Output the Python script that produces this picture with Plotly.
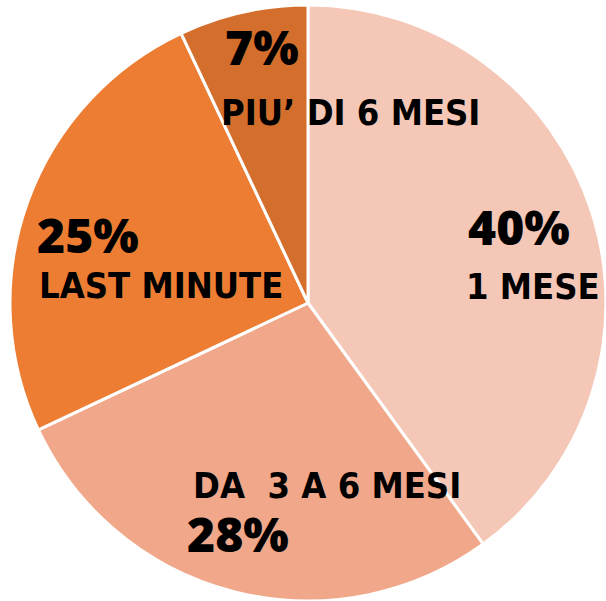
import plotly.graph_objects as go

categories = ["1 MESE", "DA  3 A 6 MESI", "LAST MINUTE", "PIU’ DI 6 MESI"]
values = [40, 28, 25, 7]
pct_labels = ["40%", "28%", "25%", "7%"]
colors = ["#F4C7B7", "#F1A88A", "#ED7D32", "#D46E2C"]

W, H = 606, 601

fig = go.Figure(go.Pie(
    labels=categories,
    values=values,
    sort=False,
    direction="clockwise",
    rotation=0,
    marker=dict(colors=colors, line=dict(color="white", width=3)),
    textinfo="none",
    hoverinfo="label+percent",
    showlegend=False,
    domain=dict(x=[10 / W, 1.0], y=[0.0, 1 - 5 / H]),
))

# label placement (pixel centres)
pct_pos = [(519, 226), (238, 533), (88, 234), (262, 46)]
cat_pos = [(533, 286), (327, 486), (161, 285), (350, 112)]

for (x, y), t in zip(pct_pos, pct_labels):
    fig.add_annotation(x=x / W, y=1 - y / H, xref="paper", yref="paper",
                       text=t, showarrow=False, xanchor="center", yanchor="middle",
                       font=dict(family="Open Sans", size=48, color="black", weight=800))
for (x, y), t in zip(cat_pos, categories):
    fig.add_annotation(x=x / W, y=1 - y / H, xref="paper", yref="paper",
                       text=t, showarrow=False, xanchor="center", yanchor="middle",
                       font=dict(family="DejaVu Sans Condensed", size=36, color="black", weight="bold"))

fig.update_layout(width=W, height=H, margin=dict(l=0, r=0, t=0, b=0),
                  paper_bgcolor="white", plot_bgcolor="white")
fig.write_html("out.html", config={"displayModeBar": False},
               post_script="document.body.style.margin='0';")
